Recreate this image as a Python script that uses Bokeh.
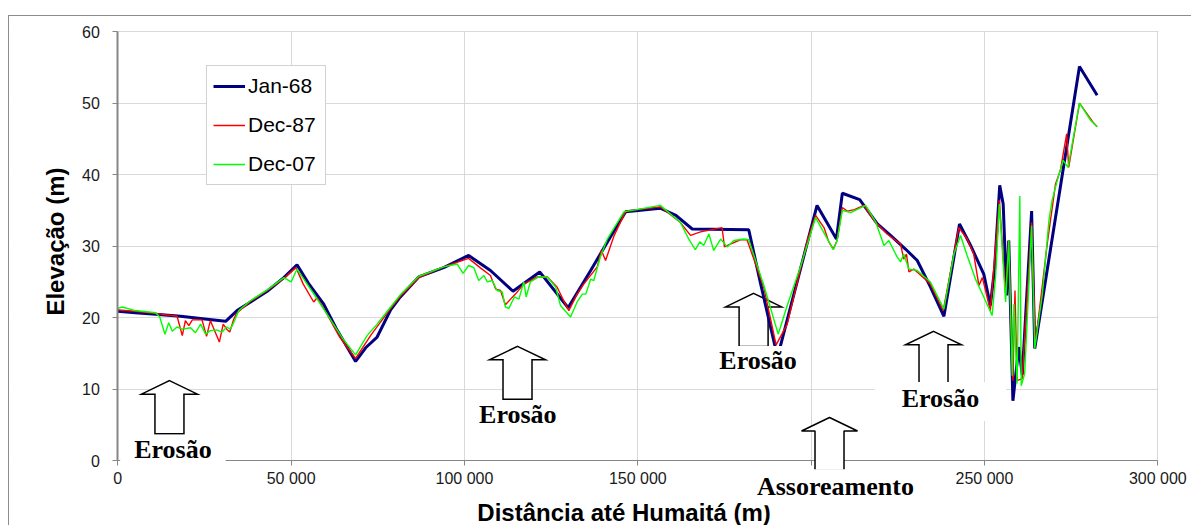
import math
from bokeh.plotting import figure
from bokeh.models import (Range1d, Legend, LegendItem, Label, PolyAnnotation, BoxAnnotation,
                          CustomJSTickFormatter, FixedTicker)
from bokeh.embed import file_html
from bokeh.resources import INLINE

# ---------------- data (distance to Humaitá in m, elevation in m) ----------------
dist_jan68 = [0, 5000, 10900, 18100, 25800, 31100, 34400, 38300, 43100, 47900, 51700,
              55000, 59400, 63000, 66000, 68600, 71500, 74800, 78700, 81500, 86800,
              94000, 101200, 107500, 114000, 121700, 129900, 136400, 142100, 146500,
              156500, 161000, 165700, 182000, 185400, 190300, 201700, 207300, 209000,
              214000, 219100, 222900, 227200, 230600, 234400, 238300, 242800, 246000,
              249800, 251700, 252900, 254400, 255400, 256400, 257000, 258200, 259900,
              260900, 263600, 264500, 277400, 282500]
elev_jan68 = [20.9, 20.7, 20.5, 20.2, 19.8, 19.5, 21.0, 22.2, 23.7, 25.6, 27.4,
              24.8, 21.9, 18.5, 16.0, 13.9, 15.8, 17.3, 21.1, 22.9, 25.7,
              27.0, 28.7, 26.6, 23.7, 26.4, 21.4, 26.6, 31.3, 34.8,
              35.3, 34.3, 32.4, 32.3, 24.8, 14.5, 35.7, 31.0, 37.4,
              36.5, 33.1, 31.5, 29.6, 28.0, 24.3, 20.2, 33.1, 30.1,
              26.1, 21.7, 26.8, 38.5, 35.9, 23.1, 30.8, 8.4, 15.9,
              12.0, 34.9, 15.7, 55.1, 51.1]

dist_dec87 = [0, 5000, 10900, 17100, 18600, 19500, 20500, 21500, 24300, 25600, 26700,
              27900, 29300, 30400, 31400, 32300, 33300, 34200, 38300, 43100, 47900,
              51400, 53500, 56500, 57500, 60000, 64000, 68600, 72900, 78700, 81500,
              86800, 94000, 101200, 104500, 107500, 109000, 110400, 111800, 113300,
              114700, 117100, 121000, 123900, 126700, 129100, 130100, 132500, 134400,
              138300, 139500, 140700, 143100, 146500, 156500, 162300, 165200, 168100,
              174300, 175000, 176700, 179600, 181500, 186300, 189900, 193100, 198900,
              201300, 203700, 205100, 206400, 207500, 209000, 210400, 212500, 215200,
              218100, 221900, 225800, 226700, 227500, 228200, 229600, 234400, 238100,
              242600, 245000, 246900, 248400, 249400, 251700, 254300, 256100, 257000,
              258200, 258800, 259400, 260900, 263600, 264700, 268100, 270500, 271900,
              273700, 274300, 277400, 281500, 282500]
elev_dec87 = [21.1, 20.9, 20.6, 20.2, 17.5, 19.6, 18.9, 19.7, 19.7, 17.4, 19.6,
              18.2, 16.6, 19.1, 18.4, 18.0, 19.6, 20.6, 22.3, 23.8, 25.5,
              27.0, 24.7, 22.2, 22.8, 20.8, 17.3, 14.3, 17.5, 21.3, 23.0,
              25.6, 27.1, 28.3, 27.0, 25.9, 24.0, 23.8, 21.8, 22.6,
              23.3, 24.7, 25.7, 25.7, 24.3, 21.9, 21.0, 23.3, 24.7,
              27.1, 29.4, 28.0, 31.4, 34.9, 35.5, 33.3, 31.5, 32.0,
              32.6, 29.9, 30.3, 30.9, 30.9, 24.3, 16.2, 19.1, 30.8,
              34.3, 32.6, 30.6, 29.6, 30.8, 35.4, 34.9, 35.1, 35.7,
              33.6, 31.7, 30.3, 28.2, 28.9, 26.4, 26.8, 24.7, 21.0,
              32.6, 31.0, 28.9, 24.5, 25.6, 21.0, 36.4, 23.3, 30.8,
              11.2, 23.8, 11.2, 11.5, 33.3, 16.4, 30.3, 38.7, 40.6,
              45.7, 41.0, 50.0, 47.2, 46.7]

dist_dec07 = [0, 1300, 5000, 10900, 12100, 13600, 14700, 15700, 17100, 18600, 21000,
              22400, 23900, 25300, 26700, 28500, 30100, 31400, 32500, 33700, 34900,
              38300, 43100, 47900, 50000, 51700, 53500, 57000, 61000, 65000, 68600,
              71900, 74800, 78700, 81500, 86800, 94000, 97900, 99600, 101200, 102700,
              104100, 105600, 106600, 108000, 109400, 110900, 111800, 112800, 114400,
              115700, 117100, 117800, 119000, 121400, 123900, 126300, 127700, 130600,
              132500, 134000, 135000, 136400, 137300, 139200, 141200, 146000, 156500,
              162300, 164700, 166600, 167900, 169000, 170500, 171900, 173900, 175800,
              177700, 180600, 182000, 186300, 190500, 193100, 196900, 201300, 204100,
              206400, 207500, 209000, 211400, 215700, 218600, 221000, 222400, 224800,
              225800, 226700, 228200, 230600, 234400, 238300, 241200, 243100, 245000,
              247400, 249800, 252200, 253200, 254300, 256100, 257000, 258000, 258500,
              259400, 260200, 260600, 261600, 263600, 264500, 266700, 268600, 269500,
              271000, 272700, 274100, 277400, 280600, 282500]
elev_dec07 = [21.3, 21.5, 21.0, 20.7, 20.1, 17.7, 19.3, 18.1, 18.7, 18.4, 18.6,
              17.9, 19.1, 17.7, 18.2, 18.3, 18.0, 18.7, 18.4, 19.6, 21.0,
              22.4, 23.9, 25.6, 25.0, 26.8, 25.5, 23.0, 20.0, 17.0, 14.8,
              17.5, 19.1, 21.5, 23.2, 25.8, 27.1, 27.5, 26.2, 27.3, 27.0,
              25.2, 25.9, 25.0, 25.2, 23.8, 23.6, 21.5, 21.3, 22.9,
              22.6, 25.0, 22.9, 25.0, 25.7, 25.7, 24.3, 21.7, 20.1,
              22.2, 23.3, 23.3, 25.4, 25.2, 28.5, 31.0, 34.8, 35.7,
              33.3, 31.0, 29.5, 30.6, 30.1, 31.7, 29.4, 31.0, 29.9,
              30.8, 31.0, 30.9, 24.6, 17.7, 21.7, 27.1, 34.0, 31.5,
              29.5, 30.8, 35.0, 34.7, 35.7, 33.4, 30.1, 30.8, 28.5,
              27.8, 28.9, 26.8, 26.6, 25.0, 21.2, 28.9, 31.5, 28.7,
              25.4, 22.9, 20.3, 25.7, 35.9, 22.2, 30.8, 11.9, 21.9,
              10.8, 37.0, 10.5, 12.2, 32.9, 15.7, 23.3, 33.6, 36.4,
              39.2, 42.0, 41.0, 50.0, 47.6, 46.7]

series_names = ["Jan-68", "Dec-87", "Dec-07"]
x_ticks = [0, 50000, 100000, 150000, 200000, 250000, 300000]
y_ticks = [0, 10, 20, 30, 40, 50, 60]
x_title = "Distância até Humaitá (m)"
y_title = "Elevação (m)"

# annotation texts: (text, x centre, y)
note_texts = ["Erosão", "Erosão", "Erosão", "Assoreamento", "Erosão"]
note_x = [15900, 115400, 184700, 207000, 237300]
note_y = [1.35, 6.3, 13.6, -3.7, 8.3]
# arrow tips (data units)
arrow_x = [14900, 115300, 183400, 205300, 235300]
arrow_y = [11.2, 16.0, 23.4, 6.05, 18.1]

# ---------------- figure ----------------
# the frame fills the whole canvas; axes are pinned at x = 0 / y = 0
X0, X1 = -31240, 310006
Y0, Y1 = -9.18, 62.10
p = figure(width=1183, height=510, output_backend="svg", toolbar_location=None,
           x_range=Range1d(X0, X1), y_range=Range1d(Y0, Y1),
           min_border_left=0, min_border_right=0, min_border_top=0,
           min_border_bottom=0)
p.styles = {"margin-top": "15px", "margin-left": "8px",
            "border-top": "1px solid #8c8c8c", "border-left": "1px solid #8c8c8c"}
p.background_fill_color = "white"
p.border_fill_color = "white"
p.outline_line_color = None

GRID = "#d9d9d9"
AX = "#868686"
SANS = "Liberation Sans"
SERIF = "Liberation Serif"

p.xaxis.fixed_location = 0
p.yaxis.fixed_location = 0
p.xaxis.bounds = (0, 300000)
p.yaxis.bounds = (0, 60)
p.xaxis.ticker = FixedTicker(ticks=x_ticks)
p.yaxis.ticker = FixedTicker(ticks=y_ticks)
p.xgrid.ticker = FixedTicker(ticks=x_ticks)
p.ygrid.ticker = FixedTicker(ticks=y_ticks)
p.xgrid.grid_line_color = GRID
p.ygrid.grid_line_color = GRID
p.xaxis.formatter = CustomJSTickFormatter(
    code=r"return tick.toString().replace(/\B(?=(\d{3})+(?!\d))/g, ' ');")

for ax in (p.xaxis, p.yaxis):
    ax.axis_line_color = AX
    ax.major_tick_line_color = AX
    ax.major_tick_out = 5
    ax.major_tick_in = 0
    ax.minor_tick_line_color = None
    ax.major_label_text_font = SANS
    ax.major_label_text_font_size = "16px"
    ax.major_label_text_color = "#1a1a1a"

p.xaxis.axis_line_width = 1
p.yaxis.axis_line_width = 2
p.xaxis.major_label_standoff = 4
p.yaxis.major_label_standoff = 13

# white masks keep the grid inside the 0..300 000 x 0..60 plot area
PXX = 288.46    # data units per pixel (x)
PXY = 1 / 7.155  # data units per pixel (y)
for l, r, b, t in [(X0, X1, Y0, 0), (X0, X1, 60 + 0.6 * PXY, Y1),
                   (X0, 0, Y0, Y1), (300000 + 0.6 * PXX, X1, Y0, Y1)]:
    p.add_layout(BoxAnnotation(left=l, right=r, bottom=b, top=t,
                               fill_color="white", fill_alpha=1.0, line_color=None,
                               level="underlay"))

# axis titles
p.add_layout(Label(x=146020, y=-7.16, text=x_title, text_font=SANS,
                   text_font_style="bold", text_font_size="24px", text_color="black",
                   text_align="center", text_baseline="middle"))
p.add_layout(Label(x=-18090, y=30.65, text=y_title, text_font=SANS,
                   text_font_style="bold", text_font_size="24px", text_color="black",
                   text_align="center", text_baseline="middle", angle=math.pi / 2))

# ---------------- arrows (hollow block arrows pointing up) ----------------
def arrow_shape(tx, ty):
    hw, hh, sw, tot = 28, 13.5, 14.5, 53
    xs = [tx, tx + hw * PXX, tx + sw * PXX, tx + sw * PXX,
          tx - sw * PXX, tx - sw * PXX, tx - hw * PXX]
    ys = [ty, ty - hh * PXY, ty - hh * PXY, ty - tot * PXY,
          ty - tot * PXY, ty - hh * PXY, ty - hh * PXY]
    return xs, ys


in_frame = [0, 1, 2, 4]
axs, ays = [], []
for i in in_frame:
    xs, ys = arrow_shape(arrow_x[i], arrow_y[i])
    axs.append(xs)
    ays.append(ys)
p.patches(xs=axs, ys=ays, fill_color="white", line_color="black", line_width=1.5,
          line_join="miter")

# arrow crossing the x axis (annotation level, so it covers the axis line)
xs4, ys4 = arrow_shape(arrow_x[3], arrow_y[3])
p.add_layout(PolyAnnotation(xs=xs4, ys=ys4, fill_color="white", fill_alpha=1.0,
                            line_color="black", line_alpha=1.0, line_width=1.5))

# ---------------- series ----------------
r1 = p.line(dist_jan68, elev_jan68, line_color="#000080", line_width=3)
r2 = p.line(dist_dec87, elev_dec87, line_color="#ff0000", line_width=1.4)
r3 = p.line(dist_dec07, elev_dec07, line_color="#00ff00", line_width=1.4)

legend = Legend(items=[LegendItem(label=series_names[0], renderers=[r1]),
                       LegendItem(label=series_names[1], renderers=[r2]),
                       LegendItem(label=series_names[2], renderers=[r3])],
                location=(197, 341))
legend.border_line_color = "#a6a6a6"
legend.border_line_width = 1
legend.background_fill_color = "white"
legend.background_fill_alpha = 1.0
legend.label_text_font = SANS
legend.label_text_font_size = "21px"
legend.label_text_color = "black"
legend.glyph_width = 32
legend.glyph_height = 28
legend.label_height = 28
legend.label_width = 71
legend.label_standoff = 3
legend.padding = 6
legend.spacing = 11
legend.margin = 0
p.add_layout(legend)

# ---------------- text boxes ----------------
pads = [dict(left=14, right=14, top=0, bottom=4),
        dict(left=6, right=6, top=0, bottom=2),
        dict(left=8, right=8, top=0, bottom=6),
        dict(left=6, right=6, top=3, bottom=4),
        dict(left=27, right=27, top=2, bottom=8)]
for t, x, y, pd in zip(note_texts, note_x, note_y, pads):
    p.add_layout(Label(x=x, y=y, text=t, text_font=SERIF, text_font_style="bold",
                       text_font_size="26px", text_color="black",
                       text_align="center", text_baseline="alphabetic",
                       background_fill_color="white", background_fill_alpha=1.0,
                       padding=pd))

open("out.html", "w").write(file_html(p, INLINE))
